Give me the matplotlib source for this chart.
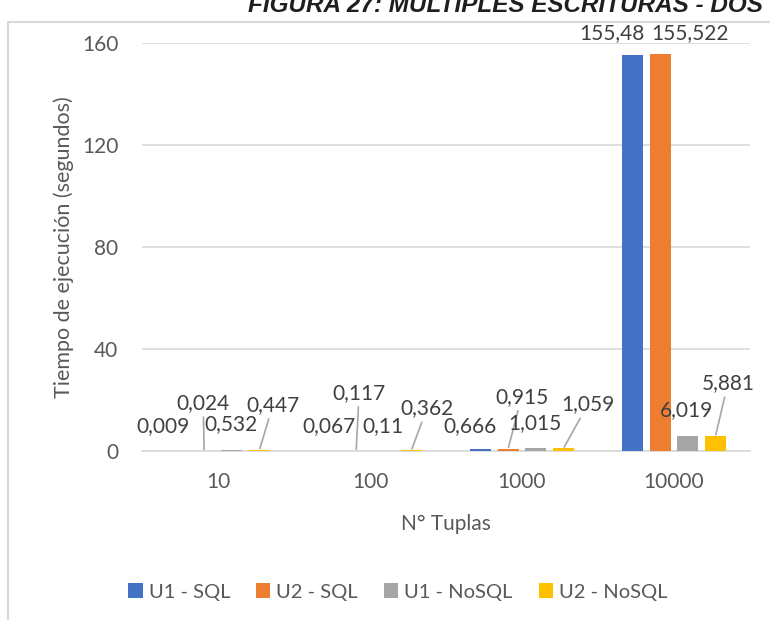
import matplotlib.pyplot as plt
import numpy as np
from matplotlib.patches import Rectangle

# datos
categorias = ['10', '100', '1000', '10000']
series = ['U1 - SQL', 'U2 - SQL', 'U1 - NoSQL', 'U2 - NoSQL']
u1_sql = [0.009, 0.067, 0.666, 155.48]
u2_sql = [0.024, 0.117, 0.915, 155.522]
u1_nosql = [0.532, 0.11, 1.015, 6.019]
u2_nosql = [0.447, 0.362, 1.059, 5.881]
valores = [u1_sql, u2_sql, u1_nosql, u2_nosql]
colores = ['#4472C4', '#ED7D31', '#A5A5A5', '#FFC000']

# posicion de cada etiqueta respecto a la barra (px) y si lleva linea guia
etiquetas_pos = [
    [(-13.5, 25, False), (0, 25, False), (-11, 23, False), (-21, 21, False)],
    [(-1, 48, True), (3, 58, True), (13.5, 52, True), (29.5, 21, False)],
    [(-1, 26, False), (-1, 25, False), (-1, 25, False), (-1, 26, False)],
    [(13.5, 45, True), (15.5, 42, True), (24.5, 44, True), (12.5, 53, True)],
]

plt.rcParams['font.family'] = ['Lato', 'DejaVu Sans']
texto = '#595959'

fig = plt.figure(figsize=(7.7, 6.2), dpi=100)
ax = fig.add_axes([142 / 770, (620 - 451) / 620, 608 / 770, 408 / 620])

x = np.arange(len(categorias))
paso = 0.182
ancho = 0.138
px2pt = 0.72

for i, (serie, vals, col) in enumerate(zip(series, valores, colores)):
    xs = x + (i - 1.5) * paso
    ax.bar(xs, vals, width=ancho, color=col, label=serie, zorder=3)
    for j, (xx, v) in enumerate(zip(xs, vals)):
        dx, dy, guia = etiquetas_pos[i][j]
        txt = ('%g' % v).replace('.', ',')
        kw = {}
        if guia:
            kw['arrowprops'] = dict(arrowstyle='-', color='#A6A6A6', lw=1.2,
                                    shrinkA=1, shrinkB=1)
        ax.annotate(txt, xy=(xx, v), xytext=(dx * px2pt, dy * px2pt),
                    textcoords='offset points', ha='center', va='center',
                    fontsize=15, color='#404040', **kw)

ax.set_ylim(0, 160)
ax.set_xlim(-0.5, 3.5)
ax.set_yticks([0, 40, 80, 120, 160])
ax.set_xticks(x)
ax.set_xticklabels(categorias)
ax.yaxis.grid(True, color='#D9D9D9', lw=1.2, zorder=0)
for s in ['top', 'right', 'left']:
    ax.spines[s].set_visible(False)
ax.spines['bottom'].set_color('#D9D9D9')
ax.spines['bottom'].set_linewidth(1.2)
ax.tick_params(axis='both', length=0, labelsize=15, colors=texto)
ax.tick_params(axis='y', pad=17)
ax.tick_params(axis='x', pad=15)
ax.set_ylabel('Tiempo de ejecución (segundos)', fontsize=15.5, color=texto, labelpad=6)
ax.set_xlabel('N° Tuplas', fontsize=15, color=texto, labelpad=16)

fig.legend(loc='center', bbox_to_anchor=(398 / 770, 1 - 592 / 620), ncol=4,
           frameon=False, fontsize=14.5, handlelength=0.7, handleheight=0.7,
           handletextpad=0.3, columnspacing=1.3, labelcolor=texto)

# marco del grafico
fig.patches.append(Rectangle((8 / 770, -0.1), 1.2, 1 - 22 / 620 + 0.1,
                             transform=fig.transFigure, fill=False,
                             edgecolor='#D9D9D9', lw=1.5))

fig.text(248 / 770, 1 - 12 / 620, 'FIGURA 27: MÚLTIPLES ESCRITURAS - DOS USUARIOS',
         fontsize=17.5, fontweight='bold', fontstyle='italic', color='#1F1F1F',
         family=['Liberation Sans', 'DejaVu Sans'], ha='left', va='baseline')

plt.savefig('out.png')
